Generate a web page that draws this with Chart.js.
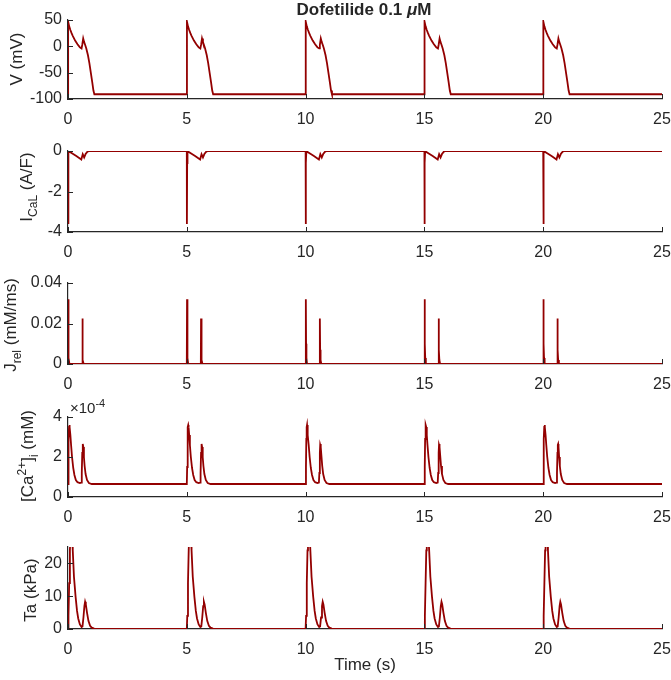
<!DOCTYPE html>
<html>
<head>
<meta charset="utf-8">
<script src="https://cdn.jsdelivr.net/npm/chart.js@4.4.1/dist/chart.umd.min.js"></script>
<style>
  body { margin: 0; background: #fff; }
  #wrap { position: relative; width: 671px; height: 680px; overflow: hidden;
          font-family: "Liberation Sans", Arial, sans-serif; color: #262626; }
  canvas { position: absolute; left: 0; }
  .ylab { position: absolute; white-space: nowrap; font-size: 17px; line-height: 20px;
          transform: translate(-50%, -50%) rotate(-90deg); }
  .sub { position: relative; top: 5px; font-size: 12px; }
  .sup { position: relative; top: -7px; font-size: 12px; }
  #title { position: absolute; left: 364px; top: 10px; transform: translate(-50%, -50%);
           font-weight: bold; font-size: 17px; white-space: nowrap; }
  #xlab { position: absolute; left: 365px; top: 665px; transform: translate(-50%, -50%);
          font-size: 17px; white-space: nowrap; }
  #expo { position: absolute; left: 70px; top: 399px; font-size: 15px; white-space: nowrap; }
</style>
</head>
<body>
<div id="wrap">
  <canvas id="cV"></canvas>
  <canvas id="cI"></canvas>
  <canvas id="cJ"></canvas>
  <canvas id="cCa"></canvas>
  <canvas id="cTa"></canvas>

  <div id="title">Dofetilide 0.1 <i>&mu;</i>M</div>
  <div class="ylab" style="left:17px; top:59px;">V (mV)</div>
  <div class="ylab" style="left:27px; top:187px;">I<span class="sub">CaL</span> (A/F)</div>
  <div class="ylab" style="left:11px; top:325px;">J<span class="sub">rel</span> (mM/ms)</div>
  <div class="ylab" style="left:28px; top:456px;">[Ca<span class="sup">2+</span>]<span class="sub">i</span> (mM)</div>
  <div class="ylab" style="left:31px; top:590px;">Ta (kPa)</div>
  <div id="expo">&times;10<span class="sup" style="font-size:11px;top:-6px;">-4</span></div>
  <div id="xlab">Time (s)</div>
</div>

<script>
// Beat onsets (s)
const beatStarts = [0, 5, 10, 15, 20];
const xTicks = [0, 5, 10, 15, 20, 25];

// One beat of each trace: time after onset (s) and value
const vTime  = [0, 0.006, 0.05, 0.1, 0.15, 0.2, 0.3, 0.4, 0.5, 0.57, 0.6, 0.64, 0.68, 0.72, 0.77, 0.84, 0.9, 0.96, 1.02, 1.07, 1.11];
const vValue = [-91, 47, 38, 31, 25, 20, 11, 4, -2, -4, 3, 15, 8, 3, -4, -17, -32, -50, -68, -84, -91];

const iTime  = [0, 0.004, 0.015, 0.03, 0.08, 0.2, 0.35, 0.5, 0.56, 0.62, 0.68, 0.74, 0.82, 0.9];
const iValue = [0, -3.6, -0.6, -0.05, -0.05, -0.14, -0.25, -0.37, -0.42, -0.16, -0.32, -0.15, -0.03, 0];

const jTime  = [0, 0.01, 0.02, 0.035, 0.06, 0.59, 0.6, 0.612, 0.63, 0.66];
const jValue = [0, 0.032, 0.01, 0.003, 0, 0, 0.0225, 0.007, 0.002, 0];

const caTime  = [0, 0.015, 0.03, 0.045, 0.06, 0.075, 0.1, 0.13, 0.17, 0.22, 0.27, 0.33, 0.4, 0.5, 0.56,
                 0.58, 0.6, 0.615, 0.63, 0.645, 0.67, 0.7, 0.74, 0.8, 0.88, 1.0];
const caValue = [0.65e-4, 1.5e-4, 2.9e-4, 3.5e-4, 3.6e-4, 3.5e-4, 3.1e-4, 2.6e-4, 2.0e-4, 1.45e-4, 1.1e-4, 0.85e-4, 0.74e-4, 0.7e-4, 0.72e-4,
                 1.2e-4, 2.2e-4, 2.6e-4, 2.65e-4, 2.5e-4, 2.0e-4, 1.55e-4, 1.15e-4, 0.85e-4, 0.7e-4, 0.65e-4];

const taTime  = [0, 0.02, 0.05, 0.08, 0.1, 0.14, 0.18, 0.2, 0.25, 0.32, 0.38, 0.43, 0.5, 0.57, 0.61, 0.65, 0.69, 0.72, 0.75, 0.8, 0.86, 0.93, 1.0, 1.1, 1.2];
const taValue = [0, 4, 14, 24, 28, 30, 27, 24, 16, 9.8, 5.5, 3.2, 1.4, 0.6, 0.8, 3.5, 7, 8.3, 7.5, 5, 2.5, 1, 0.4, 0.1, 0];

// Y tick values and labels
const vTicks = [-100, -50, 0, 50];
const vTickLabels = ['-100', '-50', '0', '50'];
const iTicks = [-4, -2, 0];
const iTickLabels = ['-4', '-2', '0'];
const jTicks = [0, 0.02, 0.04];
const jTickLabels = ['0', '0.02', '0.04'];
const caTicks = [0, 2e-4, 4e-4];
const caTickLabels = ['0', '2', '4'];
const taTicks = [0, 10, 20];
const taTickLabels = ['0', '10', '20'];

const lineColor = '#930000';
const axisColor = '#262626';
const fontFamily = '"Liberation Sans", Arial, sans-serif';
const padTop = 14;
const xAxisH = 34;

// Panels: canvas id, plot top/bottom (px), y limits
const panels = [
  { id: 'cV',  top: 20,  bottom: 99,  min: -100, max: 50,   t: vTime,  v: vValue,  ticks: vTicks,  labels: vTickLabels },
  { id: 'cI',  top: 151, bottom: 232, min: -4,   max: 0,    t: iTime,  v: iValue,  ticks: iTicks,  labels: iTickLabels },
  { id: 'cJ',  top: 283, bottom: 364, min: 0,    max: 0.04, t: jTime,  v: jValue,  ticks: jTicks,  labels: jTickLabels },
  { id: 'cCa', top: 417, bottom: 497, min: 0,    max: 4e-4, t: caTime, v: caValue, ticks: caTicks, labels: caTickLabels },
  { id: 'cTa', top: 547, bottom: 629, min: 0,    max: 25,   t: taTime, v: taValue, ticks: taTicks, labels: taTickLabels }
];

// Repeat the beat at each onset, hold the resting value until the end
function buildSeries(times, values) {
  const pts = [];
  beatStarts.forEach(s => {
    times.forEach((t, i) => pts.push({ x: s + t, y: values[i] }));
  });
  pts.push({ x: 25, y: values[values.length - 1] });
  return pts;
}

// MATLAB-style ticks pointing into the plot
const inwardTicks = {
  id: 'inwardTicks',
  afterDraw(chart) {
    const { ctx, chartArea: a, scales: { x, y } } = chart;
    ctx.save();
    ctx.strokeStyle = axisColor;
    ctx.lineWidth = 1;
    ctx.beginPath();
    x.ticks.forEach(t => {
      const px = Math.round(x.getPixelForValue(t.value)) + 0.5;
      ctx.moveTo(px, a.bottom);
      ctx.lineTo(px, a.bottom - 5);
    });
    y.ticks.forEach(t => {
      const py = Math.round(y.getPixelForValue(t.value)) + 0.5;
      ctx.moveTo(a.left, py);
      ctx.lineTo(a.left + 5, py);
    });
    ctx.stroke();
    ctx.restore();
  }
};

// fixed axis boxes, no extra room asked for edge labels
function fixX(s) {
  s.height = xAxisH;
  s.paddingLeft = 0;
  s.paddingRight = 0;
}
function fixY(s) {
  s.width = 68;
  s.paddingTop = 0;
  s.paddingBottom = 0;
}

panels.forEach(p => {
  const canvas = document.getElementById(p.id);
  const h = (p.bottom - p.top) + padTop + xAxisH;
  canvas.width = 671;
  canvas.height = h;
  canvas.style.width = '671px';
  canvas.style.height = h + 'px';
  canvas.style.top = (p.top - padTop) + 'px';

  new Chart(canvas, {
    type: 'line',
    data: {
      datasets: [{
        data: buildSeries(p.t, p.v),
        borderColor: lineColor,
        borderWidth: 1.8,
        pointRadius: 0,
        tension: 0,
        fill: false
      }]
    },
    options: {
      responsive: false,
      animation: false,
      events: [],
      layout: { padding: { top: padTop, right: 9, bottom: 0, left: 0 } },
      plugins: { legend: { display: false }, tooltip: { enabled: false } },
      scales: {
        x: {
          type: 'linear',
          min: 0,
          max: 25,
          afterBuildTicks: s => { s.ticks = xTicks.map(v => ({ value: v })); },
          afterFit: fixX,
          grid: { display: false, drawTicks: false },
          border: { display: true, color: axisColor, width: 1.2 },
          ticks: { color: axisColor, padding: 11, maxRotation: 0, autoSkip: false,
                   font: { family: fontFamily, size: 16 } }
        },
        y: {
          type: 'linear',
          min: p.min,
          max: p.max,
          afterBuildTicks: s => { s.ticks = p.ticks.map(v => ({ value: v })); },
          afterFit: fixY,
          grid: { display: false, drawTicks: false },
          border: { display: true, color: axisColor, width: 1.2 },
          ticks: { color: axisColor, padding: 6, autoSkip: false,
                   font: { family: fontFamily, size: 16 },
                   callback: (v, i) => p.labels[i] }
        }
      }
    },
    plugins: [inwardTicks]
  });
});
</script>
</body>
</html>
